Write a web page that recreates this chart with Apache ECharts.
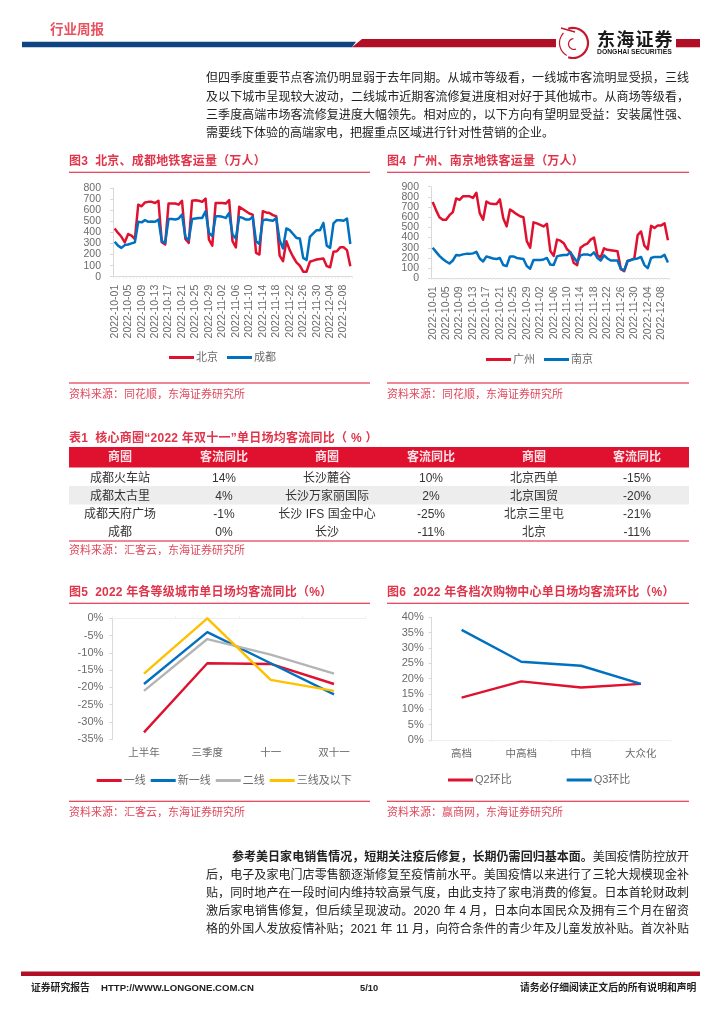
<!DOCTYPE html>
<html><head><meta charset="utf-8">
<script src="https://cdn.jsdelivr.net/npm/echarts@6/dist/echarts.min.js"></script>
<style>
html,body{margin:0;padding:0;background:#fff;width:724px;height:1024px;overflow:hidden}
#c{position:absolute;left:0;top:0;width:724px;height:1024px}
#o{position:absolute;left:0;top:0;width:724px;height:1024px;pointer-events:none;font-family:"Liberation Sans","Noto Sans CJK SC",sans-serif}
#o div{position:absolute;white-space:nowrap}
</style></head><body>
<div id="c"></div><div id="o"></div>
<script>
const dates=['2022-10-01','2022-10-02','2022-10-03','2022-10-04','2022-10-05','2022-10-06','2022-10-07','2022-10-08','2022-10-09','2022-10-10','2022-10-11','2022-10-12','2022-10-13','2022-10-14','2022-10-15','2022-10-16','2022-10-17','2022-10-18','2022-10-19','2022-10-20','2022-10-21','2022-10-22','2022-10-23','2022-10-24','2022-10-25','2022-10-26','2022-10-27','2022-10-28','2022-10-29','2022-10-30','2022-10-31','2022-11-01','2022-11-02','2022-11-03','2022-11-04','2022-11-05','2022-11-06','2022-11-07','2022-11-08','2022-11-09','2022-11-10','2022-11-11','2022-11-12','2022-11-13','2022-11-14','2022-11-15','2022-11-16','2022-11-17','2022-11-18','2022-11-19','2022-11-20','2022-11-21','2022-11-22','2022-11-23','2022-11-24','2022-11-25','2022-11-26','2022-11-27','2022-11-28','2022-11-29','2022-11-30','2022-12-01','2022-12-02','2022-12-03','2022-12-04','2022-12-05','2022-12-06','2022-12-07','2022-12-08','2022-12-09','2022-12-10'];
const beijing=[435,395,360,310,385,370,340,650,635,670,675,675,665,685,310,290,660,660,660,650,685,340,305,685,690,685,675,705,335,280,665,665,665,660,690,320,265,630,610,590,570,560,215,200,590,580,575,555,545,190,140,320,240,180,130,100,45,45,135,145,155,160,165,95,85,225,230,265,265,240,95];
const chengdu=[315,280,260,285,290,300,310,495,490,510,495,497,495,515,320,305,520,520,515,525,560,360,330,520,525,530,530,590,395,365,545,545,540,530,575,380,345,540,530,515,515,540,320,295,510,515,510,505,530,330,255,435,420,385,350,345,170,150,360,390,420,420,485,280,260,480,510,510,505,525,295];
const guangzhou=[750,670,600,575,575,620,650,785,770,805,805,805,790,840,640,575,755,735,730,730,775,590,510,675,655,630,610,600,365,300,550,540,525,510,535,270,220,380,370,345,285,255,150,130,300,325,340,380,400,230,205,295,280,275,270,265,90,70,170,180,195,425,460,320,285,515,495,520,520,540,375];
const nanjing=[300,260,220,190,165,145,175,230,225,235,240,240,245,260,195,165,215,205,195,190,200,130,120,215,215,200,195,190,120,95,180,180,180,185,200,135,130,215,225,230,230,255,205,160,225,235,235,225,255,200,175,225,195,175,175,175,90,80,170,180,190,195,210,130,100,200,210,210,210,230,155];
const cityLevels=['上半年','三季度','十一','双十一'];
const tier1=[-33,-13,-13.2,-19];
const newTier1=[-19,-4,-13,-22];
const tier2=[-21,-6,-10.5,-16];
const tier3=[-16,0,-17.8,-21];
const mallLevels=['高档','中高档','中档','大众化'];
const q2=[13.8,19.1,17.1,18.3];
const q3=[35.9,25.5,24.2,18.3];
const tableHead=['商圈','客流同比','商圈','客流同比','商圈','客流同比'];
const tableRows=[
['成都火车站','14%','长沙麓谷','10%','北京西单','-15%'],
['成都太古里','4%','长沙万家丽国际','2%','北京国贸','-20%'],
['成都天府广场','-1%','长沙 IFS 国金中心','-25%','北京三里屯','-21%'],
['成都','0%','长沙','-11%','北京','-11%']];
const proseTop=['但四季度重要节点客流仍明显弱于去年同期。从城市等级看，一线城市客流明显受损，三线','及以下城市呈现较大波动，二线城市近期客流修复进度相对好于其他城市。从商场等级看，','三季度高端市场客流修复进度大幅领先。相对应的，以下方向有望明显受益：安装属性强、','需要线下体验的高端家电，把握重点区域进行针对性营销的企业。'];
const proseBottom=['后，电子及家电门店零售额逐渐修复至疫情前水平。美国疫情以来进行了三轮大规模现金补','贴，同时地产在一段时间内维持较高景气度，由此支持了家电消费的修复。日本首轮财政刺','激后家电销售修复，但后续呈现波动。2020 年 4 月，日本向本国民众及拥有三个月在留资','格的外国人发放疫情补贴；2021 年 11 月，向符合条件的青少年及儿童发放补贴。首次补贴'];

const RED='#E0112F',BLUE='#0070C0',GRAY='#B4B4B4',YEL='#FFC000';
const TXT='#6b6b6b',AX='#d9d9d9',FF='"Liberation Sans","Noto Sans CJK SC",sans-serif';
const o=document.getElementById('o');
function t(s,x,y,size,color,weight,extra){const d=document.createElement('div');d.textContent=s;
 d.style.cssText=`left:${x}px;top:${y-size}px;height:${size*2}px;line-height:${size*2}px;font-size:${size}px;color:${color};font-weight:${weight||400};`+(extra||'');o.appendChild(d);return d;}
function center(s,cx,y,size,color,weight){return t(s,cx-100,y,size,color,weight,'width:200px;text-align:center;');}
function just(s,x,y,w,size,color,weight){return t(s,x,y,size,color,weight,`width:${w}px;white-space:normal;text-align:justify;text-align-last:justify;`);}
t('行业周报',50,29,13.5,'#E8505F',700);
proseTop.forEach((s,i)=>{const ys=[77.5,96.5,115,133];i<3?just(s,206,ys[i],483,12,'#222'):t(s,206,ys[i],12,'#222');});
const heads=[['图3  北京、成都地铁客运量（万人）',69,161],['图4  广州、南京地铁客运量（万人）',387,161],['图5  2022 年各等级城市单日场均客流同比（%）',69,592],['图6  2022 年各档次购物中心单日场均客流环比（%）',387,592]];
heads.forEach(h=>t(h[0],h[1],h[2],12,'#E0344A',700,'white-space:pre;letter-spacing:.2px;'));
t('表1  核心商圈“2022 年双十一”单日场均客流同比（ % ）',69,438,12,'#E0344A',700,'white-space:pre;letter-spacing:.25px;');
[['资料来源：同花顺，东海证券研究所',69,394],['资料来源：同花顺，东海证券研究所',387,394],['资料来源：汇客云，东海证券研究所',69,550],['资料来源：汇客云，东海证券研究所',69,812],['资料来源：赢商网，东海证券研究所',387,812]].forEach(a=>t(a[0],a[1],a[2],11,'#E0485C'));
const colX=[120,224,327,431,534,637],rowY=[477.5,496,513.5,532];
tableHead.forEach((s,i)=>center(s,colX[i],457,12,'#fbe3e6',700));
tableRows.forEach((r,j)=>r.forEach((s,i)=>center(s,colX[i],rowY[j],12,'#333')));
const lead=t('',232,857,12,'#222',400,'width:457px;text-align:justify;text-align-last:justify;white-space:normal;');
lead.innerHTML='<b>参考美日家电销售情况，短期关注疫后修复，长期仍需回归基本面。</b>美国疫情防控放开';
proseBottom.forEach((s,i)=>just(s,206,[875,893,911,929][i],483,12,'#222'));
t('证券研究报告',31,988,9.8,'#222',700);
t('HTTP://WWW.LONGONE.COM.CN',101,988,9.6,'#222',700);
t('5/10',360,988,9.3,'#222',700);
t('请务必仔细阅读正文后的所有说明和声明',520,988,9.8,'#222',700);
t('东海证券',597,38,18,'#1a1a1a',700,'letter-spacing:1.2px;font-family:"Noto Sans CJK SC";');
t('DONGHAI SECURITIES',597,52,6.8,'#1a1a1a',700);

const chart=echarts.init(document.getElementById('c'),null,{renderer:'canvas'});
const axisBase={axisLine:{show:true,onZero:false,lineStyle:{color:AX,width:1}},axisTick:{show:true,length:3,lineStyle:{color:AX}},splitLine:{show:false}};
function yAx(g,min,max,step,fmt,fs,m){return Object.assign({},axisBase,{type:'value',position:'left',gridIndex:g,min,max,interval:step,axisLabel:{color:TXT,fontSize:fs,fontFamily:FF,margin:m,formatter:fmt,showMinLabel:true,showMaxLabel:true,hideOverlap:false}});}
function dx(g){return Object.assign({},axisBase,{type:'category',gridIndex:g,data:dates,axisTick:{show:true,length:2,interval:0,lineStyle:{color:'#eeeeee'}},axisLabel:{interval:3,rotate:90,color:TXT,fontSize:10.5,fontFamily:FF,margin:8}});}
function ln(name,data,color,x,y,w){return {name,type:'line',data,xAxisIndex:x,yAxisIndex:y,symbol:'none',smooth:false,lineStyle:{color,width:w,join:'round'},itemStyle:{color},emphasis:{disabled:true},animation:false};}
function lg(data,left,top,gap){return {data,left,top,padding:0,itemWidth:25,itemHeight:3,itemGap:gap,icon:'rect',textStyle:{color:TXT,fontSize:11,fontFamily:FF,padding:[0,0,0,-3]},selectedMode:false};}
const dec=[
 {type:'polygon',shape:{points:[[22,41.7],[356,41.7],[352,47.3],[22,47.3]]},style:{fill:'#0F4482'}},
 {type:'polygon',shape:{points:[[352,47.3],[362,39],[557,39],[557,47.3]]},style:{fill:'#B10F26'}},
 {type:'rect',shape:{x:676,y:39,width:24,height:8.3},style:{fill:'#B10F26'}},
 {type:'rect',shape:{x:556,y:26,width:37,height:35},style:{fill:'#fff'}},
 {type:'arc',shape:{cx:573,cy:43,r:15,startAngle:-1.9,endAngle:1.9},style:{stroke:'#C6162E',fill:null,lineWidth:2.2}},
 {type:'arc',shape:{cx:574,cy:43,r:14.5,startAngle:2.1,endAngle:3.9},style:{stroke:'#C6162E',fill:null,lineWidth:1.2}},
 {type:'arc',shape:{cx:574,cy:44,r:5.5,startAngle:1.2,endAngle:4.6},style:{stroke:'#C6162E',fill:null,lineWidth:1.2}},
 {type:'line',shape:{x1:561,y1:28,x2:575,y2:32},style:{stroke:'#C6162E',lineWidth:1.4}},
 {type:'rect',shape:{x:69,y:171.8,width:301,height:1},style:{fill:'#E0112F'}},
 {type:'rect',shape:{x:387,y:171.8,width:302,height:1},style:{fill:'#E0112F'}},
 {type:'rect',shape:{x:69,y:382.5,width:301,height:1},style:{fill:'#E0112F'}},
 {type:'rect',shape:{x:387,y:382.5,width:302,height:1},style:{fill:'#E0112F'}},
 {type:'rect',shape:{x:69,y:602.8,width:301,height:1},style:{fill:'#E0112F'}},
 {type:'rect',shape:{x:387,y:602.8,width:302,height:1},style:{fill:'#E0112F'}},
 {type:'rect',shape:{x:69,y:800.8,width:301,height:1},style:{fill:'#E0112F'}},
 {type:'rect',shape:{x:387,y:800.8,width:302,height:1},style:{fill:'#E0112F'}},
 {type:'rect',shape:{x:69,y:447,width:620,height:20.5},style:{fill:'#E0112F'}},
 {type:'rect',shape:{x:69,y:486,width:620,height:18.5},style:{fill:'#EDEDED'}},
 {type:'rect',shape:{x:69,y:540.5,width:620,height:1},style:{fill:'#E0112F'}},
 {type:'rect',shape:{x:21,y:971.5,width:679,height:4.5},style:{fill:'#B10F26'}}
];
// Figure 4's labels are 10 px apart: its axis is split in two so ECharts keeps every one of them.
const fig4Even=yAx(1,0,900,100,v=>v%200===0?String(v):'',10.5,12);
const fig4Odd=Object.assign(yAx(1,0,900,100,v=>v%200===100?String(v):'',10.5,12),{axisLine:{show:false},axisTick:{show:false}});
chart.setOption({
 animation:false,backgroundColor:'#fff',textStyle:{fontFamily:FF},
 graphic:dec.map(d=>Object.assign({silent:true,z:-1},d)),
 grid:[{left:113,top:188,width:239,height:88.7},{left:431,top:186.7,width:238.6,height:91.6},{left:112.3,top:618.3,width:253.4,height:121},{left:431.7,top:617.3,width:239,height:122.7}],
 xAxis:[dx(0),dx(1),
  Object.assign({},axisBase,{type:'category',gridIndex:2,position:'top',data:cityLevels,axisLabel:{show:false},axisTick:{show:true,length:2,lineStyle:{color:'#eeeeee'}},axisLine:{show:true,onZero:false,lineStyle:{color:'#eeeeee'}}}),
  {type:'category',gridIndex:2,position:'bottom',data:cityLevels,axisLine:{show:false},axisTick:{show:false},axisLabel:{color:TXT,fontSize:10.5,fontFamily:FF,margin:9}},
  Object.assign({},axisBase,{type:'category',gridIndex:3,position:'bottom',data:mallLevels,axisTick:{show:true,length:2,lineStyle:{color:'#eeeeee'}},axisLine:{show:true,onZero:false,lineStyle:{color:'#eeeeee'}},axisLabel:{color:TXT,fontSize:10.5,fontFamily:FF,margin:9}})],
 yAxis:[yAx(0,0,800,100,'{value}',10.5,12),fig4Even,yAx(2,-35,0,5,'{value}%',11,9),yAx(3,0,40,5,'{value}%',11,8),fig4Odd],
 legend:[lg(['北京','成都'],169,352,9),lg(['广州','南京'],486,354,9),lg(['一线','新一线','二线','三线及以下'],96.7,775,5),lg(['Q2环比','Q3环比'],448,774.5,55)],
 series:[ln('北京',beijing,RED,0,0,2.5),ln('成都',chengdu,BLUE,0,0,2.5),ln('广州',guangzhou,RED,1,1,2.5),ln('南京',nanjing,BLUE,1,1,2.5),
  ln('一线',tier1,RED,2,2,2.4),ln('新一线',newTier1,BLUE,2,2,2.4),ln('二线',tier2,GRAY,2,2,2.4),ln('三线及以下',tier3,YEL,2,2,2.4),
  ln('Q2环比',q2,RED,4,3,2.4),ln('Q3环比',q3,BLUE,4,3,2.4)]
});
</script></body></html>
